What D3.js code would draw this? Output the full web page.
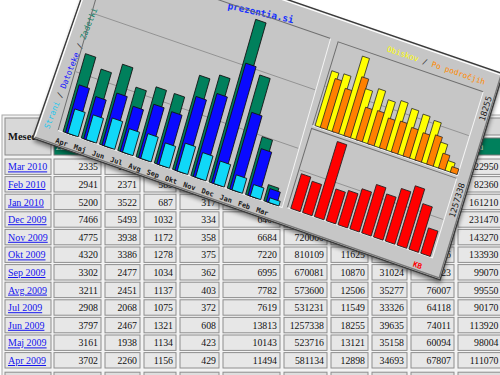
<!DOCTYPE html>
<html><head><meta charset="utf-8">
<script src="https://cdn.jsdelivr.net/npm/d3@7"></script>
<style>body{margin:0;background:#fff;overflow:hidden}svg{display:block}</style>
</head><body>
<script>
// ---------- chart data (Apr 2009 .. Mar 2010) ----------
const months = ["Apr","Maj","Jun","Jul","Avg","Sep","Okt","Nov","Dec","Jan","Feb","Mar"];
const hits   = [111070, 98004, 113920, 90170, 99550, 99070, 133930, 143270, 231470, 161210, 82360, 22950];
const files  = [67807, 60094, 74011, 64118, 76007, 74323, 104966, 118140, 170283, 109182, 66388, 18500];
const pages  = [34693, 35158, 39635, 33326, 35277, 31024, 39618, 35160, 31992, 21297, 16500, 6500];
const visits = [12898, 13121, 18255, 11549, 12506, 10870, 11625, 10740, 10354, 9830, 5690, 2300];
const sites  = [11494, 10143, 13813, 7619, 7782, 6995, 7220, 6684, 6400, 6850, 3500, 1300];
const kbytes = [581134, 523716, 1257338, 531231, 573600, 670081, 810109, 720000, 880000, 993000, 762000, 424000];

// ---------- table data (Mar 2010 .. Apr 2009) ----------
const tableMonths = ["Mar 2010","Feb 2010","Jan 2010","Dec 2009","Nov 2009","Okt 2009","Sep 2009","Avg 2009","Jul 2009","Jun 2009","Maj 2009","Apr 2009"];
const dayHits   = [2335, 2941, 5200, 7466, 4775, 4320, 3302, 3211, 2908, 3797, 3161, 3702];
const dayFiles  = [1850, 2371, 3522, 5493, 3938, 3386, 2477, 2451, 2068, 2467, 1938, 2260];
const dayPages  = [650, 589, 687, 1032, 1172, 1278, 1034, 1137, 1075, 1321, 1134, 1156];
const dayVisits = [230, 203, 317, 334, 358, 375, 362, 403, 372, 608, 423, 429];
const headCols = ["Zadetki","Datoteke","Strani","Obiski","Po področjih","KB","Obiski","Strani","Datoteke","Zadetki"];

const title = "prezentia.si";
const legendLeft = [["Strani","#22c8ee"],[" / ","#333"],["Datoteke","#1010ff"],[" / ","#333"],["Zadetki","#008060"]];
const legendRight = [["Obiskov","#ffff00"],[" / ","#333"],["Po področjih","#ff8a00"]];

const C = {hits:"#00805c", files:"#0a0aff", pages:"#10d8f8", visits:"#ffff00", sites:"#ff8000", kb:"#ff0000"};

const W = 500, H = 375;
const svg = d3.select("body").append("svg").attr("width", W).attr("height", H);
const defs = svg.append("defs");
defs.append("filter").attr("id","sh").attr("x","-20%").attr("y","-20%").attr("width","140%").attr("height","140%")
  .append("feGaussianBlur").attr("stdDeviation", 2.2);

// ================= TABLE =================
const colX = [[5,51],[54,101],[105,140],[144,176],[180,219],[223,280],[284,327],[331,368],[372,407],[411,454],[458,503]];
const row0 = 159, pitch = 17.6, rowH = 15.4;
const rev = a => a.slice().reverse();
const rowsData = tableMonths.map((m,i) => [m, dayHits[i], dayFiles[i], dayPages[i], dayVisits[i],
  rev(sites)[i], rev(kbytes)[i], rev(visits)[i], rev(pages)[i], rev(files)[i], rev(hits)[i]]);

const tbl = svg.append("g");
tbl.append("rect").attr("x",2).attr("y",115).attr("width",520).attr("height",280)
  .attr("fill","#f3f3f3").attr("stroke","#a8a8a8");
// header
tbl.append("rect").attr("x",colX[0][0]).attr("y",118).attr("width",colX[0][1]-colX[0][0]).attr("height",37)
  .attr("fill","#d8d8d8").attr("stroke","#8a8a8a");
tbl.append("text").attr("x",8).attr("y",140).attr("font-family","Liberation Serif").attr("font-weight","bold")
  .attr("font-size",10.5).attr("fill","#111").text("Mesec");
tbl.selectAll("rect.ht").data([[1,4],[5,10]]).join("rect").attr("class","ht")
  .attr("x",d=>colX[d[0]][0]).attr("y",118).attr("width",d=>colX[d[1]][1]-colX[d[0]][0]).attr("height",17)
  .attr("fill","#d8d8d8").attr("stroke","#8a8a8a");
const hcol = [C.hits,C.files,C.pages,C.visits,C.sites,C.kb,C.visits,C.pages,C.files,C.hits];
tbl.selectAll("rect.hc").data(headCols).join("rect").attr("class","hc")
  .attr("x",(d,i)=>colX[i+1][0]).attr("y",138).attr("width",(d,i)=>colX[i+1][1]-colX[i+1][0]).attr("height",17)
  .attr("fill",(d,i)=>hcol[i]).attr("stroke","#777");
tbl.selectAll("text.hc").data(headCols).join("text").attr("class","hc")
  .attr("x",(d,i)=>colX[i+1][0]+2).attr("y",150).attr("font-family","Liberation Sans").attr("font-size",7)
  .attr("fill","#fff").text(d=>d);

const rowsG = tbl.selectAll("g.row").data(rowsData).join("g").attr("class","row")
  .attr("transform",(d,i)=>`translate(0,${row0 + i*pitch})`);
rowsG.selectAll("rect").data(d=>d).join("rect")
  .attr("x",(d,i)=>colX[i][0]).attr("width",(d,i)=>colX[i][1]-colX[i][0]).attr("height",rowH)
  .attr("fill","#e7e7e7").attr("stroke","#8e8e8e");
rowsG.selectAll("text").data(d=>d).join("text")
  .attr("x",(d,i)=> i===0 ? colX[0][0]+3 : Math.min(colX[i][1]-3, 498.5))
  .attr("y",11.4)
  .attr("text-anchor",(d,i)=> i===0 ? "start" : "end")
  .attr("font-family","Liberation Serif")
  .attr("font-size",(d,i)=> i===0 ? 10 : 9.8)
  .attr("fill",(d,i)=> i===0 ? "#1414ee" : "#111")
  .style("text-decoration",(d,i)=> i===0 ? "underline" : null)
  .text(d=>d);
// totals row (partially visible at the bottom)
tbl.selectAll("rect.tot").data(colX).join("rect").attr("class","tot")
  .attr("x",d=>d[0]).attr("y",row0+12*pitch+2).attr("width",d=>d[1]-d[0]).attr("height",16)
  .attr("fill","#dedede").attr("stroke","#8e8e8e");

// ================= PANEL =================
const deg = Math.PI/180;
const ux = Math.cos(19*deg), uy = Math.sin(19*deg);
const OM = [95.8, -64.8];
const vec = l => [-Math.sin(l*deg), Math.cos(l*deg)];
function mat(lean, anchorY){
  const vb = vec(17), v = vec(lean);
  const ox = OM[0] + anchorY*(vb[0]-v[0]), oy = OM[1] + anchorY*(vb[1]-v[1]);
  return `matrix(${ux},${uy},${v[0]},${v[1]},${ox},${oy})`;
}
const panel = svg.append("g");
const gM = panel.append("g").attr("transform", mat(17,0));
const frame = [[7,-1.5],[430,-1.5],[430.3,214],[-1,212.5]];
const pts = f => f.map(p=>p.join(",")).join(" ");
gM.append("polygon").attr("points",pts(frame)).attr("fill","#000").attr("opacity",0.5)
  .attr("transform","translate(1.5,3)").attr("filter","url(#sh)");
gM.append("polygon").attr("points",pts(frame)).attr("fill","#c6c6c6").attr("stroke","#3a3a3a").attr("stroke-width",1.4);
gM.append("polyline").attr("points",pts([[0.8,211],[8.3,0.2],[428.6,0.2]])).attr("fill","none").attr("stroke","#fff").attr("stroke-width",1.2);
gM.append("polyline").attr("points",pts([[428.6,0.2],[428.8,212.3],[0.8,211]])).attr("fill","none").attr("stroke","#777").attr("stroke-width",1.3);

function box(g, x0, y0, x1, y1){
  g.append("polyline").attr("points",pts([[x0,y1],[x0,y0],[x1,y0]])).attr("fill","none").attr("stroke","#6f6f6f").attr("stroke-width",1);
  g.append("polyline").attr("points",pts([[x1,y0],[x1,y1],[x0,y1]])).attr("fill","none").attr("stroke","#f4f4f4").attr("stroke-width",1);
}

// title
gM.append("text").attr("x",214.5).attr("y",19).attr("text-anchor","end")
  .attr("transform","rotate(-6.5,214.5,19)")
  .attr("font-family","DejaVu Sans Mono").attr("font-weight","bold").attr("font-size",9.4)
  .attr("fill","#1530ff").text(title);

// left legend (vertical)
const ll = gM.append("text").attr("transform","translate(12,199) rotate(-85)")
  .attr("font-family","DejaVu Sans Mono").attr("font-size",8);
ll.selectAll("tspan").data(legendLeft).join("tspan").attr("fill",d=>d[1]).text(d=>d[0]);

// ---------- left chart ----------
const gL = panel.append("g").attr("transform", mat(16,196.5));
const xL = d3.scaleBand().domain(months).range([24.5, 24.5+12*19.3]);
const yL = d3.scaleLinear().domain([0, d3.max(hits)]).range([196.5, 27.4]);
box(gL, 21, 21, 258, 197);
gL.selectAll("line.grid").data([0.72,0.36]).join("line").attr("class","grid")
  .attr("x1",22).attr("x2",257).attr("y1",d=>yL(d*d3.max(hits))).attr("y2",d=>yL(d*d3.max(hits)))
  .attr("stroke","#8d8d8d").attr("stroke-width",0.8);
const bw = 11;
[[hits,C.hits,-8],[files,C.files,-5.5],[pages,C.pages,-3]].forEach(([arr,col,off])=>{
  gL.append("g").selectAll("rect").data(arr).join("rect")
    .attr("x",(d,i)=>xL(months[i])+xL.bandwidth()/2+off).attr("width",bw)
    .attr("y",d=>yL(d)).attr("height",d=>yL(0)-yL(d))
    .attr("fill",col).attr("stroke","#111").attr("stroke-width",0.8);
});
gL.selectAll("text.mon").data(months).join("text").attr("class","mon")
  .attr("x",d=>xL(d)+xL.bandwidth()/2-6.5).attr("y",209.5).attr("text-anchor","middle")
  .attr("font-family","DejaVu Sans Mono").attr("font-weight","bold").attr("font-size",7)
  .attr("fill","#1a1a1a").text(d=>d);

// ---------- right charts ----------
const gR = panel.append("g").attr("transform", mat(17,0));
const xR = d3.scaleBand().domain(months).range([265.25, 265.25+150]);
const yV = d3.scaleLinear().domain([0, d3.max(visits)]).range([108.7, 27.5]);
const yK = d3.scaleLinear().domain([0, d3.max(kbytes)]).range([195, 116.5]);
box(gR, 263, 22, 416.5, 109.5);
box(gR, 263, 112.5, 416.5, 195.5);
gR.selectAll("line.g1").data([0.5]).join("line").attr("class","g1")
  .attr("x1",264).attr("x2",415.5).attr("y1",d=>yV(d*d3.max(visits))).attr("y2",d=>yV(d*d3.max(visits)))
  .attr("stroke","#8d8d8d").attr("stroke-width",0.8);
gR.selectAll("line.g2").data([0.5]).join("line").attr("class","g2")
  .attr("x1",264).attr("x2",415.5).attr("y1",d=>yK(d*d3.max(kbytes))).attr("y2",d=>yK(d*d3.max(kbytes)))
  .attr("stroke","#8d8d8d").attr("stroke-width",0.8);
const cR = m => xR(m) + xR.bandwidth()/2;
months.forEach((m,i)=>{
  gR.append("rect").attr("x",cR(m)-6).attr("width",7.5).attr("y",yV(visits[i])).attr("height",yV(0)-yV(visits[i]))
    .attr("fill",C.visits).attr("stroke","#222").attr("stroke-width",0.7);
  gR.append("rect").attr("x",cR(m)-0.5).attr("width",7.3).attr("y",yV(sites[i])).attr("height",yV(0)-yV(sites[i]))
    .attr("fill",C.sites).attr("stroke","#222").attr("stroke-width",0.7);
});
gR.append("g").selectAll("rect").data(kbytes).join("rect")
  .attr("x",(d,i)=>cR(months[i])-5).attr("width",10)
  .attr("y",d=>yK(d)).attr("height",d=>yK(0)-yK(d))
  .attr("fill",C.kb).attr("stroke","#222").attr("stroke-width",0.8);

// right legend
const lr = gR.append("text").attr("x",415.5).attr("y",15).attr("text-anchor","end")
  .attr("font-family","DejaVu Sans Mono").attr("font-size",7.8);
lr.selectAll("tspan").data(legendRight).join("tspan").attr("fill",d=>d[1]).text(d=>d[0]);
// max values (vertical)
gR.append("text").attr("transform","translate(426.5,50) rotate(-90)")
  .attr("font-family","DejaVu Sans Mono").attr("font-size",8.5).attr("fill","#222").text(d3.max(visits));
gR.append("text").attr("transform","translate(426,151) rotate(-90)")
  .attr("font-family","DejaVu Sans Mono").attr("font-size",8.5).attr("fill","#222").text(d3.max(kbytes));
gR.append("text").attr("x",409).attr("y",210).attr("text-anchor","end")
  .attr("font-family","DejaVu Sans Mono").attr("font-weight","bold").attr("font-size",7.5)
  .attr("fill",C.kb).text("KB");
</script>
</body></html>
